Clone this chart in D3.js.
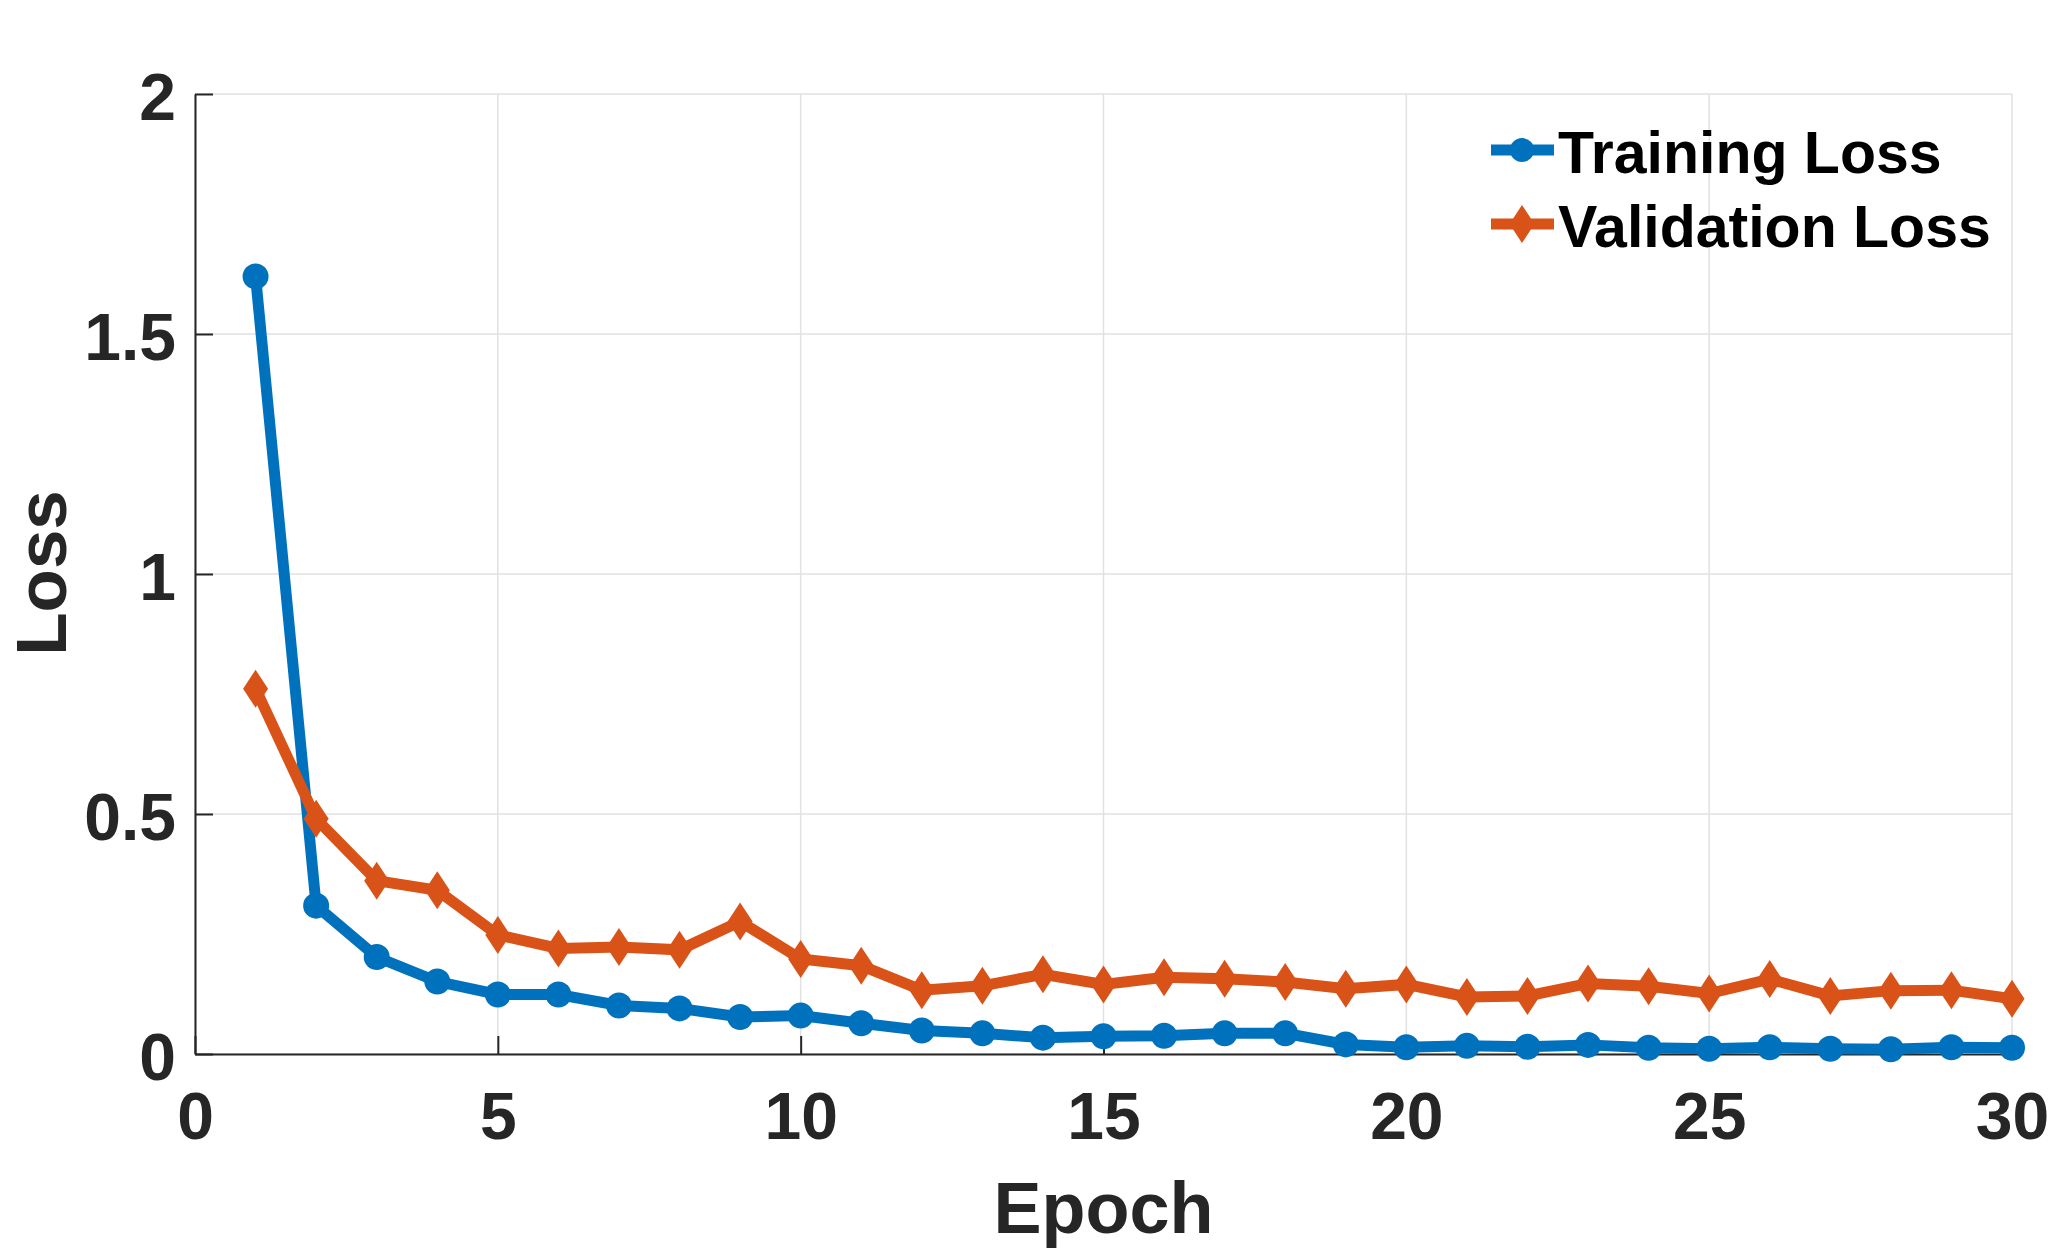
<!DOCTYPE html>
<html>
<head>
<meta charset="utf-8">
<script src="https://cdn.jsdelivr.net/npm/d3@7"></script>
<style>
  html, body { margin: 0; padding: 0; background: #fff; }
  svg { display: block; }
  text { font-family: "Liberation Sans", Arial, Helvetica, sans-serif; font-weight: bold; }
</style>
</head>
<body>
<svg id="chart" width="2051" height="1250"></svg>
<script>
// ---- data ----
const epochs = [1,2,3,4,5,6,7,8,9,10,11,12,13,14,15,16,17,18,19,20,21,22,23,24,25,26,27,28,29,30];
const trainingLoss = [1.62, 0.309, 0.202, 0.151, 0.124, 0.124, 0.101, 0.095, 0.077, 0.080,
                      0.064, 0.049, 0.043, 0.034, 0.037, 0.038, 0.043, 0.043, 0.020, 0.014,
                      0.017, 0.015, 0.019, 0.013, 0.011, 0.014, 0.011, 0.010, 0.014, 0.013];
const validationLoss = [0.761, 0.490, 0.361, 0.341, 0.248, 0.220, 0.223, 0.217, 0.276, 0.198,
                        0.184, 0.133, 0.142, 0.166, 0.145, 0.160, 0.157, 0.150, 0.136, 0.145,
                        0.119, 0.121, 0.147, 0.141, 0.126, 0.156, 0.121, 0.132, 0.133, 0.115];
const xTicks = [0, 5, 10, 15, 20, 25, 30];
const yTicks = [0, 0.5, 1, 1.5, 2];
const yTickLabels = ["0", "0.5", "1", "1.5", "2"];
const seriesNames = ["Training Loss", "Validation Loss"];

(function () {
// ---- layout ----
const svg = d3.select("#chart");
const pL = 195, pR = 2012, pT = 94, pB = 1054;
const x = d3.scaleLinear().domain([0, 30]).range([pL, pR]);
const y = d3.scaleLinear().domain([0, 2]).range([pB, pT]);
const axisColor = "#262626";
const gridColor = "#e1e1e1";
const colors = ["#0072BD", "#D95319"];

// grid
const grid = svg.append("g");
grid.selectAll("line.gx").data(xTicks).join("line").attr("class", "gx")
  .attr("x1", d => x(d)).attr("x2", d => x(d))
  .attr("y1", pT).attr("y2", pB)
  .attr("stroke", gridColor).attr("stroke-width", 1.5);
grid.selectAll("line.gy").data(yTicks).join("line").attr("class", "gy")
  .attr("x1", pL).attr("x2", pR)
  .attr("y1", d => y(d)).attr("y2", d => y(d))
  .attr("stroke", gridColor).attr("stroke-width", 1.5);

// axes (inward ticks, MATLAB style)
const xAxis = d3.axisBottom(x).tickValues(xTicks).tickSize(-18).tickSizeOuter(0);
const yAxis = d3.axisLeft(y).tickValues(yTicks).tickSize(-18).tickSizeOuter(0)
  .tickFormat((d, i) => yTickLabels[i]);

const gx = svg.append("g").attr("transform", `translate(0,${pB})`).call(xAxis);
const gy = svg.append("g").attr("transform", `translate(${pL},0)`).call(yAxis);
[gx, gy].forEach(g => {
  g.select(".domain").attr("stroke", axisColor).attr("stroke-width", 2);
  g.selectAll(".tick line").attr("stroke", axisColor).attr("stroke-width", 2);
  g.selectAll(".tick text").attr("fill", axisColor).attr("font-size", 66)
    .attr("font-family", '"Liberation Sans", Arial, sans-serif').attr("font-weight", "bold");
});
gx.selectAll(".tick text").attr("dy", 0).attr("y", 85);
gy.selectAll(".tick text").attr("dy", 0).attr("y", 25).attr("x", -19);

// axis titles
svg.append("text").attr("x", x(15)).attr("y", 1233).attr("text-anchor", "middle")
  .attr("font-size", 72).attr("fill", axisColor).text("Epoch");
svg.append("text").attr("transform", `translate(66,573) rotate(-90)`).attr("text-anchor", "middle")
  .attr("font-size", 71).attr("fill", axisColor).text("Loss");

// lines
const series = [trainingLoss, validationLoss];
const line = d3.line().x((d, i) => x(epochs[i])).y(d => y(d));
const diamond = (cx, cy) => `M${cx},${cy - 19}L${cx + 12.5},${cy}L${cx},${cy + 19}L${cx - 12.5},${cy}Z`;

series.forEach((vals, s) => {
  const g = svg.append("g");
  g.append("path").datum(vals).attr("d", line)
    .attr("fill", "none").attr("stroke", colors[s]).attr("stroke-width", 11)
    .attr("stroke-linejoin", "miter");
  if (s === 0) {
    g.selectAll("circle").data(vals).join("circle")
      .attr("cx", (d, i) => x(epochs[i])).attr("cy", d => y(d)).attr("r", 13)
      .attr("fill", colors[s]);
  } else {
    g.selectAll("path.m").data(vals).join("path").attr("class", "m")
      .attr("d", (d, i) => diamond(x(epochs[i]), y(d)))
      .attr("fill", colors[s]);
  }
});

// legend
const legY = [150, 224];
const lg = svg.append("g");
seriesNames.forEach((name, s) => {
  lg.append("line").attr("x1", 1491).attr("x2", 1554).attr("y1", legY[s]).attr("y2", legY[s])
    .attr("stroke", colors[s]).attr("stroke-width", 11);
  if (s === 0) {
    lg.append("circle").attr("cx", 1522).attr("cy", legY[s]).attr("r", 12).attr("fill", colors[s]);
  } else {
    lg.append("path").attr("d", diamond(1522, legY[s])).attr("fill", colors[s]);
  }
  lg.append("text").attr("x", 1558).attr("y", legY[s] + 23).attr("font-size", 59)
    .attr("fill", "#000").text(name);
});
})();
</script>
</body>
</html>
